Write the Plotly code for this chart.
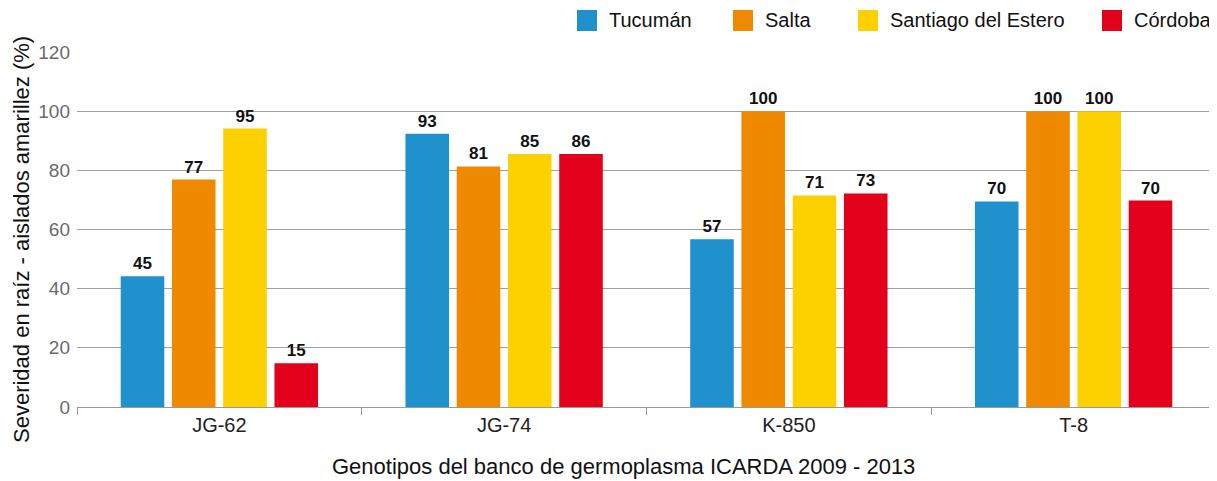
import plotly.graph_objects as go

categories = ["JG-62", "JG-74", "K-850", "T-8"]
series_names = ["Tucumán", "Salta", "Santiago del Estero", "Córdoba"]
colors = ["#1F92CE", "#EF8A00", "#FDD000", "#E2001A"]

tucuman = [44.2, 92.4, 56.7, 69.5]
salta = [76.9, 81.3, 99.9, 99.9]
santiago = [94.1, 85.5, 71.5, 99.9]
cordoba = [14.8, 85.5, 72.2, 69.8]

tucuman_labels = ["45", "93", "57", "70"]
salta_labels = ["77", "81", "100", "100"]
santiago_labels = ["95", "85", "71", "100"]
cordoba_labels = ["15", "86", "73", "70"]

values = [tucuman, salta, santiago, cordoba]
labels = [tucuman_labels, salta_labels, santiago_labels, cordoba_labels]

yticks = [0, 20, 40, 60, 80, 100, 120]

font = "Liberation Sans, Arial, Helvetica, sans-serif"

# page has an 8px body margin; figure is sized to fill the rest
OFF = 8
W, H = 1217 - OFF, 481 - OFF
L, R, T, B = 77 - OFF, 1, 52 - OFF, 74
pw, ph = W - L - R, H - T - B


def px_x(px):
    return (px - OFF - L) / pw


def px_y(py):
    return (H - B - (py - OFF)) / ph


fig = go.Figure()
for name, vals, labs, col in zip(series_names, values, labels, colors):
    fig.add_trace(go.Bar(
        x=categories, y=vals, name=name, marker=dict(color=col, line=dict(width=0)),
        text=labs, textposition="outside", cliponaxis=False,
        textfont=dict(family=font, size=17, color="#111111"),
        texttemplate="<b>%{text}</b>", showlegend=False,
    ))

# manual legend (squares + names)
legend_sq_x = [577, 733, 858, 1102]
for name, col, sx in zip(series_names, colors, legend_sq_x):
    fig.add_shape(type="rect", xref="paper", yref="paper",
                  x0=px_x(sx), x1=px_x(sx + 20), y0=px_y(31), y1=px_y(10),
                  fillcolor=col, line=dict(width=0))
    fig.add_annotation(xref="paper", yref="paper", x=px_x(sx + 30), y=px_y(20.5),
                       text=name, showarrow=False, xanchor="left", yanchor="middle",
                       font=dict(family=font, size=20, color="#111111"))

# axis titles
fig.add_annotation(xref="paper", yref="paper", x=px_x(623), y=px_y(466),
                   text="Genotipos del banco de germoplasma ICARDA 2009 - 2013",
                   showarrow=False, xanchor="center", yanchor="middle",
                   font=dict(family=font, size=22, color="#111111"))
fig.add_annotation(xref="paper", yref="paper", x=px_x(21), y=px_y(240),
                   text="Severidad en raíz - aislados amarillez (%)", textangle=-90,
                   showarrow=False, xanchor="center", yanchor="middle",
                   font=dict(family=font, size=22, color="#111111"))

fig.update_layout(
    width=W, height=H,
    margin=dict(l=L, r=R, t=T, b=B, autoexpand=False),
    plot_bgcolor="white", paper_bgcolor="white",
    barmode="group", bargap=0.28, bargroupgap=0.15,
    font=dict(family=font, size=20, color="#222222"),
    showlegend=False,
)

fig.update_xaxes(
    showline=True, linecolor="#999999", linewidth=1,
    ticks="outside", tickson="boundaries", ticklen=7, tickcolor="#999999",
    tickfont=dict(size=20, color="#222222"), automargin=False,
)
fig.update_yaxes(
    range=[0, 120], tickvals=yticks, showgrid=True, gridcolor="#A0A0A0", gridwidth=1,
    showline=False, zeroline=False, ticks="", ticklabelstandoff=6,
    tickfont=dict(size=19, color="#6A6A6A"), automargin=False,
)

fig.write_html("out.html")
